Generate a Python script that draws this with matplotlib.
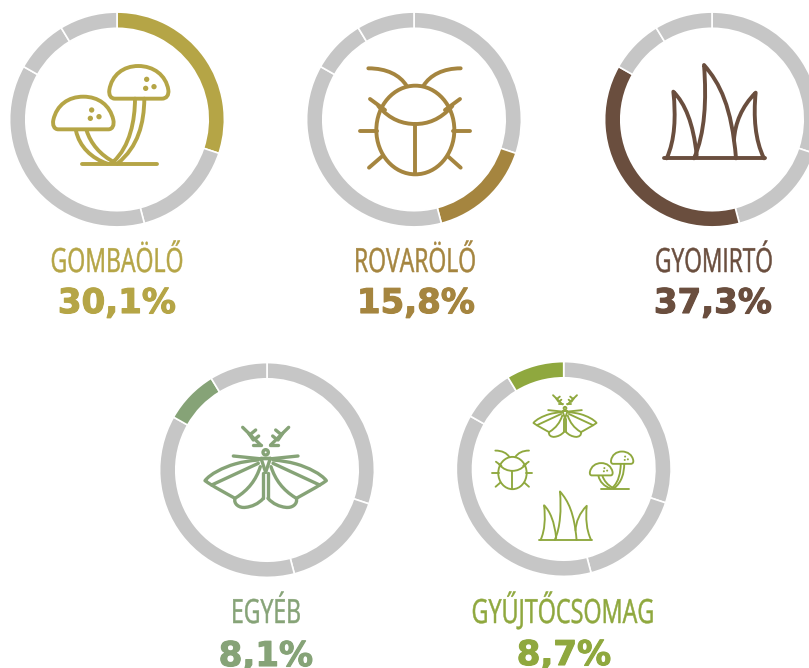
import matplotlib
matplotlib.use("Agg")
import matplotlib.pyplot as plt
from matplotlib.path import Path
from matplotlib.patches import PathPatch, Circle
from matplotlib.patheffects import AbstractPathEffect, withStroke
from matplotlib.transforms import Affine2D

# ---- data ----
categories = ["GOMBAÖLŐ", "ROVARÖLŐ", "GYOMIRTÓ", "EGYÉB", "GYŰJTŐCSOMAG"]
shares = [30.1, 15.8, 37.3, 8.1, 8.7]
share_labels = ["30,1%", "15,8%", "37,3%", "8,1%", "8,7%"]
colors = ["#B5A546", "#A5853F", "#6A4E3E", "#86A377", "#8FA83E"]
GRAY = "#C6C6C6"

W, H = 809, 668
centers = [(117, 119.5), (414, 119.5), (712, 119.5), (267, 470), (563.7, 469)]
label_pos = [(117, 272), (415, 272), (714, 272), (266, 623), (563, 623)]
label_widths = [133, 122, 118, 70, 183]
pct_pos = [(117, 313), (416, 313), (713, 313), (266, 666), (564, 665)]

OUTER = 107.4
RING = 16.2

fig = plt.figure(figsize=(W / 100, H / 100), dpi=100, facecolor="white")
ax = fig.add_axes([0, 0, 1, 1])


def Y(py):
    return H - py


for i, (cx, cy) in enumerate(centers):
    ring_colors = [colors[i] if j == i else GRAY for j in range(len(shares))]
    ax.pie(shares, colors=ring_colors, startangle=90, counterclock=False,
           radius=OUTER, center=(cx, Y(cy)),
           wedgeprops=dict(width=RING, edgecolor="white", linewidth=1.2))


# ---- pictograms, drawn in the 3x crop coordinates ----
def parse(d):
    toks = d.split()
    verts, codes = [], []
    k = 0
    while k < len(toks):
        c = toks[k]
        if c == "M" or c == "L":
            verts.append((float(toks[k + 1]), float(toks[k + 2])))
            codes.append(Path.MOVETO if c == "M" else Path.LINETO)
            k += 3
        elif c == "C":
            for m in range(3):
                verts.append((float(toks[k + 1 + 2 * m]), float(toks[k + 2 + 2 * m])))
                codes.append(Path.CURVE4)
            k += 7
        elif c == "Z":
            verts.append(verts[-1])
            codes.append(Path.CLOSEPOLY)
            k += 1
    return verts, codes


def mirror(d, xm):
    toks = d.split()
    out, k = [], 0
    while k < len(toks):
        t = toks[k]
        if t in "MLC":
            n = 6 if t == "C" else 2
            out.append(t)
            for m in range(0, n, 2):
                out.append(str(2 * xm - float(toks[k + 1 + m])))
                out.append(toks[k + 2 + m])
            k += n + 1
        else:
            out.append(t)
            k += 1
    return " ".join(out)


def draw_icon(icon, ox, oy, scale, color, lw, cap="round"):
    """ox, oy: pixel position of crop coordinate (0,0)"""
    for d in icon["paths"]:
        v, c = parse(d)
        v = [(ox + x * scale, Y(oy + y * scale)) for x, y in v]
        ax.add_patch(PathPatch(Path(v, c), fill=False, edgecolor=color, lw=lw,
                               capstyle=cap, joinstyle="round", zorder=3))
    for x, y, r, filled in icon.get("dots", []):
        ax.add_patch(Circle((ox + x * scale, Y(oy + y * scale)), r * scale,
                            fill=filled, facecolor=color if filled else "none",
                            edgecolor=color, lw=0 if filled else lw, zorder=3))


mushroom = {
    "paths": [
        "M 345 296 L 485 296 C 500 296 507 285 505 270 C 498 225 460 198 415 198 C 370 198 335 225 328 270 C 326 285 332 296 345 296 Z",
        "M 175 388 L 325 388 C 338 388 343 375 340 360 C 330 315 295 290 250 290 C 205 290 170 315 160 360 C 157 375 162 388 175 388 Z",
        "M 245 493 L 470 493",
        "M 433 296 C 432 370 415 440 352 491",
        "M 405 296 C 405 360 390 440 340 485",
        "M 228 392 C 238 440 275 475 322 491",
        "M 260 392 C 272 430 300 465 345 488",
    ],
    "dots": [(440, 238, 8, True), (437, 265, 8, True), (462, 260, 8, True),
             (275, 330, 8, True), (271, 355, 8, True), (297, 350, 8, True)],
}

beetle = {
    "paths": [
        "M 376 257 C 440.6 257 493 316.5 493 390 C 493 463.5 440.6 523 376 523 C 311.4 523 259 463.5 259 390 C 259 316.5 311.4 257 376 257 Z",
        "M 265 318 C 300 360 340 372 376 372 C 412 372 450 360 487 318",
        "M 376 372 L 376 523",
        "M 235 205 C 290 205 330 225 350 258",
        "M 512 205 C 460 205 420 225 400 258",
        "M 240 297 L 285 330",
        "M 510 297 L 465 330",
        "M 210 393 L 262 393",
        "M 540 393 L 490 393",
        "M 237 503 L 275 470",
        "M 512 503 L 475 470",
    ],
}

grass = {
    "paths": [
        "M 222 475 L 525 475",
        "M 230 475 C 255 420 258 350 250 275 C 285 310 310 370 320 465",
        "M 312 475 C 345 400 350 300 342 195 C 390 250 425 320 438 475",
        "M 432 420 C 435 370 455 320 497 278 C 490 350 495 420 522 475",
    ],
}

XM = 347
moth_half = [
    "M 278 232 L 332 285",
    "M 317 240 L 300 254",
    "M 296 250 L 310 270",
    "M 326 258 L 314 268",
    "M 310 285 L 334 285",
    "M 250 318 L 328 326",
    "M 333 325 L 347 367",
    "M 333 325 L 361 325",
    "M 325 330 C 300 332 280 335 255 342 C 220 352 180 372 165 392 C 190 410 225 428 255 445",
    "M 325 340 L 185 405",
    "M 331 350 C 318 390 295 420 258 443",
    "M 255 445 C 250 462 268 475 287 472 C 305 470 325 462 340 445",
    "M 340 368 L 340 445",
]
moth = {
    "paths": moth_half + [mirror(d, XM) for d in moth_half],
    "dots": [(XM, 307, 8, False)],
}

F = 1 / 3  # crop pixels -> picture pixels
LW = 2.8

draw_icon(mushroom, 0, 0, F, colors[0], LW)
draw_icon(beetle, 290, 0, F, colors[1], LW)
draw_icon(grass, 590, 0, F, colors[2], LW)
draw_icon(moth, 150, 350, F, colors[3], 2.4)

# the package circle reuses all four pictograms at a reduced size
pack = [
    # icon, source centre (crop), target centre (crop), scale
    (moth, (347, 350), (345, 197), 0.52),
    (beetle, (375, 365), (187, 360), 0.364),
    (mushroom, (333, 345), (485, 360), 0.377),
    (grass, (373, 337), (346, 498), 0.518),
]
for icon, (sx, sy), (tx, ty), s in pack:
    ox = 450 + (tx - sx * s) * F
    oy = 350 + (ty - sy * s) * F
    draw_icon(icon, ox, oy, s * F, colors[4], 1.35)


class SqueezeX(AbstractPathEffect):
    """Condenses text horizontally about x0 (no condensed family is installed)."""

    def __init__(self, x0, sx, grow=0.35):
        super().__init__()
        self.x0, self.sx, self.grow = x0, sx, grow

    def draw_path(self, renderer, gc, tpath, affine, rgbFace=None):
        t = affine + Affine2D().translate(-self.x0, 0).scale(self.sx, 1).translate(self.x0, 0)
        gc0 = renderer.new_gc()
        gc0.copy_properties(gc)
        gc0.set_foreground(rgbFace)
        gc0.set_linewidth(self.grow)
        renderer.draw_path(gc0, tpath, t, rgbFace)
        gc0.restore()


ax.set_xlim(0, W)
ax.set_ylim(0, H)
ax.set_aspect("auto")
ax.axis("off")

# ---- texts ----
renderer = fig.canvas.get_renderer()
for i, name in enumerate(categories):
    lx, ly = label_pos[i]
    t = ax.text(lx, Y(ly), name, ha="center", va="baseline", color=colors[i],
                fontsize=24, family="Open Sans")
    natural = t.get_window_extent(renderer).width
    t.set_path_effects([SqueezeX(lx, label_widths[i] / natural)])
    px, py = pct_pos[i]
    ax.text(px, Y(py), share_labels[i], ha="center", va="baseline", color=colors[i],
            fontsize=24.5, fontweight="bold", family="DejaVu Sans",
            path_effects=[withStroke(linewidth=0.8, foreground=colors[i])])

fig.savefig("out.png", dpi=100, facecolor="white")
